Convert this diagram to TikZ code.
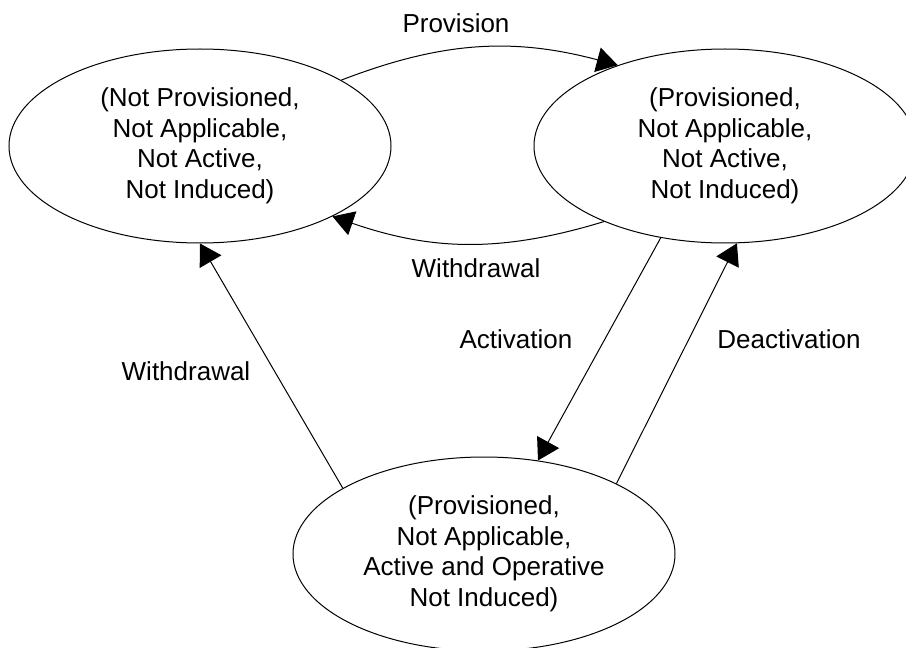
\documentclass[tikz,border=0pt]{standalone}
\usepackage{fontspec}
\setmainfont{Liberation Sans}
\usetikzlibrary{shapes.geometric,positioning,arrows.meta}

\tikzset{
    state/.style={ellipse, draw, line width=0.5pt, minimum width=191pt,
        minimum height=97pt, inner sep=0pt, align=center},
    trans/.style={-{Triangle[length=10.5pt,width=12.5pt]}, line width=0.5pt},
    lbl/.style={inner sep=0pt}
}

\begin{document}
\begin{tikzpicture}[font=\fontsize{13}{15.25}\selectfont]
        \useasboundingbox (-100pt,-251pt) rectangle (353pt,73pt);

        \node[state] (np) at (0,0) {(Not Provisioned,\\Not Applicable,\\Not Active,\\Not Induced)};
        \node[state, right=71pt of np] (pn) {(Provisioned,\\Not Applicable,\\Not Active,\\Not Induced)};
        \node[state, below=106.5pt of np, xshift=142pt] (pa) {(Provisioned,\\Not Applicable,\\Active and Operative\\Not Induced)};

        % transitions
        \path [trans] (np.25) edge[bend left=18] (pn.143);
        \path [trans] (pn.212) edge[bend left=18] (np.332);
        \path [trans] (pa.155) edge (np.270);
        \path [trans] (pn.235) edge (pa.60);
        \path [trans] (pa.28) edge (pn.277);

        \node[lbl] (provision) at (128pt,61.5pt) {Provision};
        \node[lbl] (withdrawal) at (138pt,-61pt) {Withdrawal};
        \node[lbl] (withdrawal2) at (-7pt,-112.5pt) {Withdrawal};
        \node[lbl] (activation) at (158pt,-96.5pt) {Activation};
        \node[lbl] (deactivation) at (294.5pt,-96.5pt) {Deactivation};
    \end{tikzpicture}
\end{document}
